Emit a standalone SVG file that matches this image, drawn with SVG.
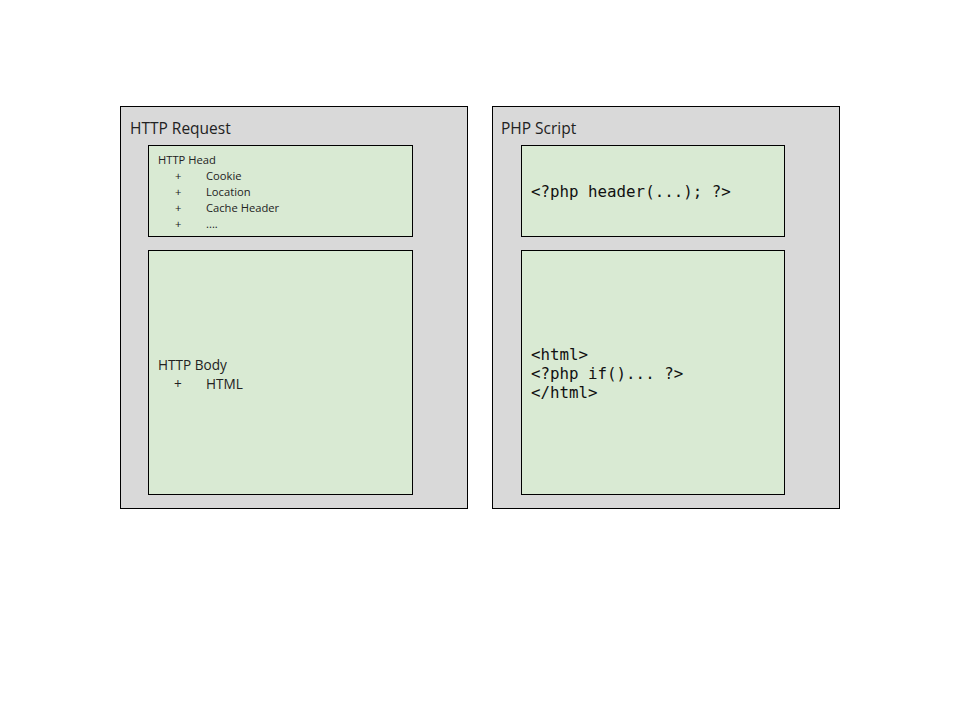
<svg xmlns="http://www.w3.org/2000/svg" width="960" height="720" viewBox="0 0 960 720">
<style>
.outer{fill:#d9d9d9;stroke:#000;stroke-width:1}
.inner{fill:#d9ead3;stroke:#000;stroke-width:1}
.title{font-family:"Open Sans","Noto Sans",sans-serif;font-size:15.5px;fill:#222}
.small{font-family:"Open Sans","Noto Sans",sans-serif;font-size:11.2px;fill:#222}
.body{font-family:"Open Sans","Noto Sans",sans-serif;font-size:13.6px;fill:#222}
.mono{font-family:"DejaVu Sans Mono","Liberation Mono",monospace;font-size:15.8px;fill:#111}
</style>
<rect width="960" height="720" fill="#fff"/>
<g id="http-request">
<rect class="outer" x="120.5" y="106.5" width="347" height="402"/>
<text class="title" x="130" y="134">HTTP Request</text>
</g>
<g id="http-head">
<rect class="inner" x="148.5" y="145.5" width="264" height="91"/>
<text class="small" x="158" y="164">HTTP Head</text>
<text class="small" x="175" y="180">+</text><text class="small" x="206" y="180">Cookie</text>
<text class="small" x="175" y="196">+</text><text class="small" x="206" y="196">Location</text>
<text class="small" x="175" y="212">+</text><text class="small" x="206" y="212">Cache Header</text>
<text class="small" x="175" y="228">+</text><text class="small" x="206" y="228">....</text>
</g>
<g id="http-body">
<rect class="inner" x="148.5" y="250.5" width="264" height="244"/>
<text class="body" x="158" y="370">HTTP Body</text>
<text class="body" x="174" y="389">+</text><text class="body" x="206" y="389">HTML</text>
</g>
<g id="php-script">
<rect class="outer" x="492.5" y="106.5" width="347" height="402"/>
<text class="title" x="501" y="134">PHP Script</text>
</g>
<g id="php-header">
<rect class="inner" x="521.5" y="145.5" width="263" height="91"/>
<text class="mono" x="531" y="197">&lt;?php header(...); ?&gt;</text>
</g>
<g id="php-html">
<rect class="inner" x="521.5" y="250.5" width="263" height="244"/>
<text class="mono" x="531" y="360">&lt;html&gt;</text>
<text class="mono" x="531" y="379">&lt;?php if()... ?&gt;</text>
<text class="mono" x="531" y="398">&lt;/html&gt;</text>
</g>
<g id="connectors"></g>
</svg>
